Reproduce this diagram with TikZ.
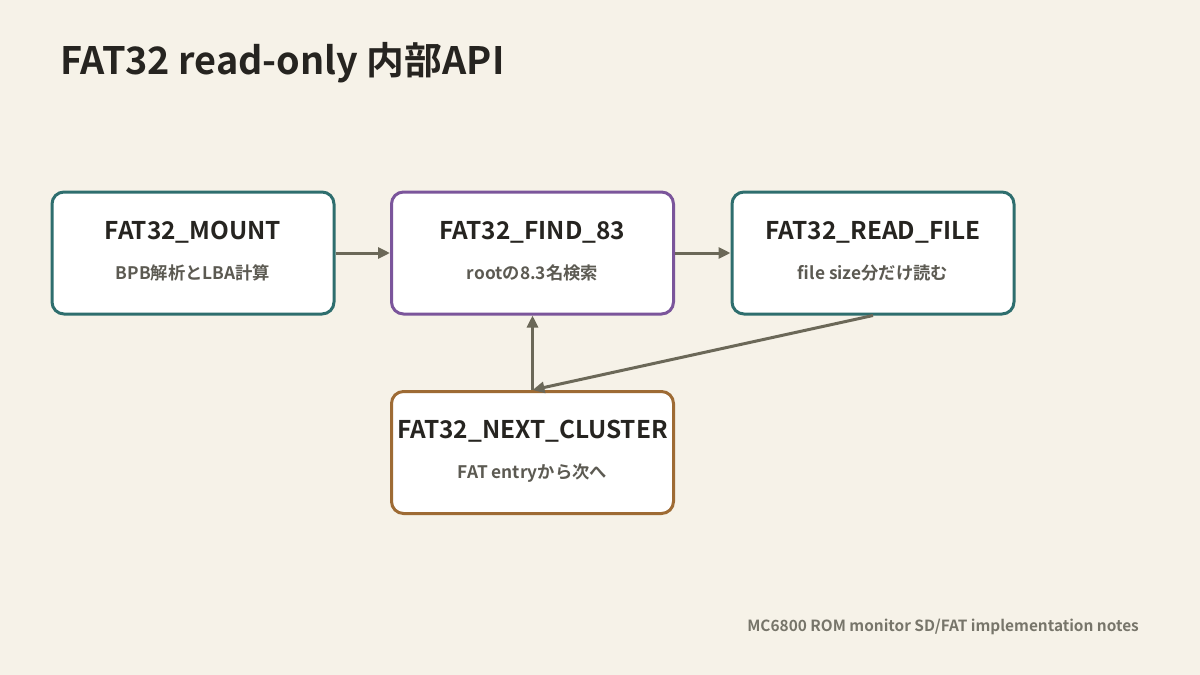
\documentclass[tikz,border=0pt]{standalone}
\usepackage{fontspec}
\setmainfont{Noto Sans CJK JP}[BoldFont={* Bold}]
\usetikzlibrary{arrows.meta}
\definecolor{bg}{HTML}{F6F2E8}
\definecolor{teal}{HTML}{2E6E6E}
\definecolor{purp}{HTML}{7B559B}
\definecolor{brn}{HTML}{9E6B34}
\definecolor{arr}{HTML}{6B6858}
\definecolor{ttl}{HTML}{262420}
\definecolor{sub}{HTML}{5C5A52}
\definecolor{foot}{HTML}{77756A}
\tikzset{
  box/.style={draw=#1, line width=3pt, fill=white, rounded corners=12pt, minimum width=282pt, minimum height=122pt, inner sep=0pt},
  conn/.style={draw=arr, line width=3pt, -{Triangle[length=12pt,width=11pt]}},
}
\begin{document}
\begin{tikzpicture}[x=1pt,y=-1pt]
\fill[bg] (0,0) rectangle (1200,675);
\useasboundingbox (0,0) rectangle (1200,675);
\node[anchor=base west, text=ttl, font=\bfseries\fontsize{37.8}{42}\selectfont, inner sep=0pt] (title) at (60,74) {FAT32 read-only 内部API};
\node[box=teal] (mount) at (193,253) {};
\node[box=purp] (find) at (532.5,253) {};
\node[box=teal] (read) at (873,253) {};
\node[box=brn] (next) at (532.5,452.5) {};
\foreach \n/\t/\s in {mount/FAT32\_MOUNT/BPB解析とLBA計算, find/FAT32\_FIND\_83/rootの8.3名検索, read/FAT32\_READ\_FILE/file size分だけ読む, next/FAT32\_NEXT\_CLUSTER/FAT entryから次へ}{
  \node[anchor=base, text=ttl, font=\bfseries\fontsize{24.4}{28}\selectfont, inner sep=0pt] (\n-t) at ([yshift=14pt]\n.center) {\t};
  \node[anchor=base, text=sub, font=\bfseries\fontsize{17.3}{20}\selectfont, inner sep=0pt] (\n-s) at ([yshift=-26pt]\n.center) {\s};
}
\draw[conn] (mount.east) -- (find.west);
\draw[conn] (find.east) -- (read.west);
\draw[conn] (next.north) -- (find.south);
\draw[conn] (read.south) -- (next.north);
\node[anchor=base east, text=foot, font=\bfseries\fontsize{15.4}{18}\selectfont, inner sep=0pt] (foot) at (1139,631) {MC6800 ROM monitor SD/FAT implementation notes};
\end{tikzpicture}
\end{document}
